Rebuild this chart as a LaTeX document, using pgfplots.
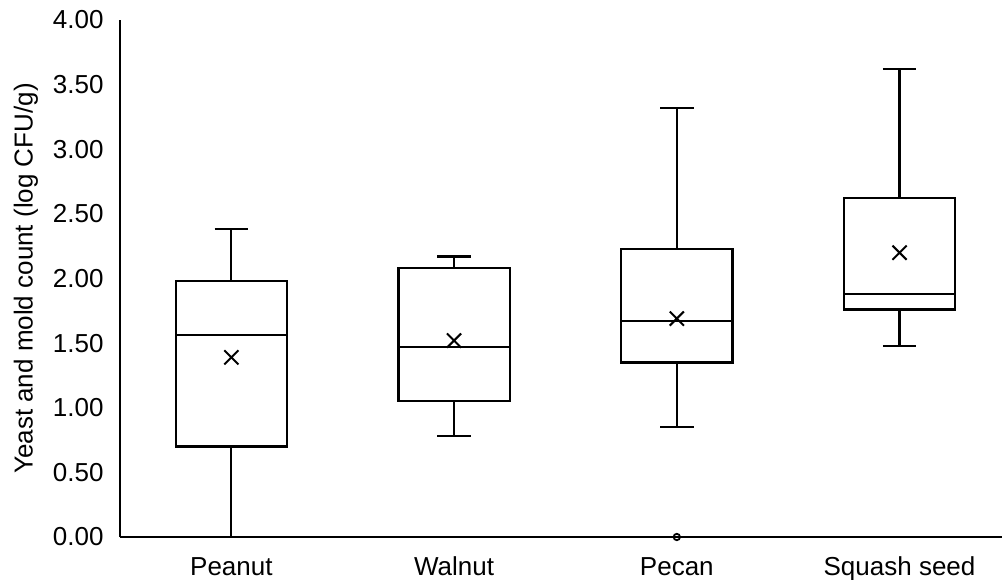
\documentclass[border=0pt]{standalone}
\usepackage{pgfplots}
\pgfplotsset{compat=1.18}
\usepgfplotslibrary{statistics}
\usepackage{fontspec}
\setmainfont{Liberation Sans}
\begin{document}
\fontsize{13}{15.6}\selectfont
\begin{tikzpicture}
\useasboundingbox (-60pt,-21pt) rectangle (441pt,268.5pt);
\begin{axis}[
  scale only axis,
  width=441pt, height=258.5pt,
  xmin=-0.5, xmax=3.46,
  ymin=0, ymax=4,
  clip=false,
  axis x line=bottom, axis y line=left,
  axis line style={-, line width=0.75pt, black},
  xtick={0,1,2,3},
  xticklabels={Peanut, Walnut, Pecan, Squash seed},
  ytick={0,0.5,1,1.5,2,2.5,3,3.5,4},
  yticklabels={0.00,0.50,1.00,1.50,2.00,2.50,3.00,3.50,4.00},
  major tick length=0pt,
  yticklabel style={xshift=-3.7pt},
  xticklabel style={anchor=base, yshift=-19pt},
  tick label style={font=\fontsize{13}{15.6}\selectfont},
  ylabel={Yeast and mold count (log CFU/g)},
  ylabel style={font=\fontsize{13.5}{16}\selectfont},
  every axis y label/.style={at={(axis description cs:0,0.5)}, xshift=-47pt, rotate=90, anchor=center},
  boxplot/draw direction=y,
  boxplot/box extend=0.5,
  boxplot/whisker extend=0.15,
]
\addplot[black, line width=1.1pt, boxplot prepared={draw position=0, lower whisker=0, lower quartile=0.70, median=1.56, upper quartile=1.98, upper whisker=2.38}] coordinates {};
\addplot[black, line width=1.1pt, boxplot prepared={draw position=1, lower whisker=0.78, lower quartile=1.05, median=1.47, upper quartile=2.08, upper whisker=2.17}] coordinates {};
\addplot[black, line width=1.1pt, boxplot prepared={draw position=2, lower whisker=0.85, lower quartile=1.35, median=1.67, upper quartile=2.23, upper whisker=3.32}] coordinates {};
\addplot[black, line width=1.1pt, boxplot prepared={draw position=3, lower whisker=1.48, lower quartile=1.76, median=1.88, upper quartile=2.62, upper whisker=3.62}] coordinates {};
% means
\addplot[only marks, mark=x, mark size=5pt, mark options={line width=1pt, black}] coordinates {(0,1.39) (1,1.52) (2,1.69) (3,2.20)};
% outlier
\addplot[only marks, mark=o, mark size=1.6pt, mark options={line width=0.9pt, black, fill=white}] coordinates {(2,0)};
\end{axis}
\end{tikzpicture}
\end{document}
